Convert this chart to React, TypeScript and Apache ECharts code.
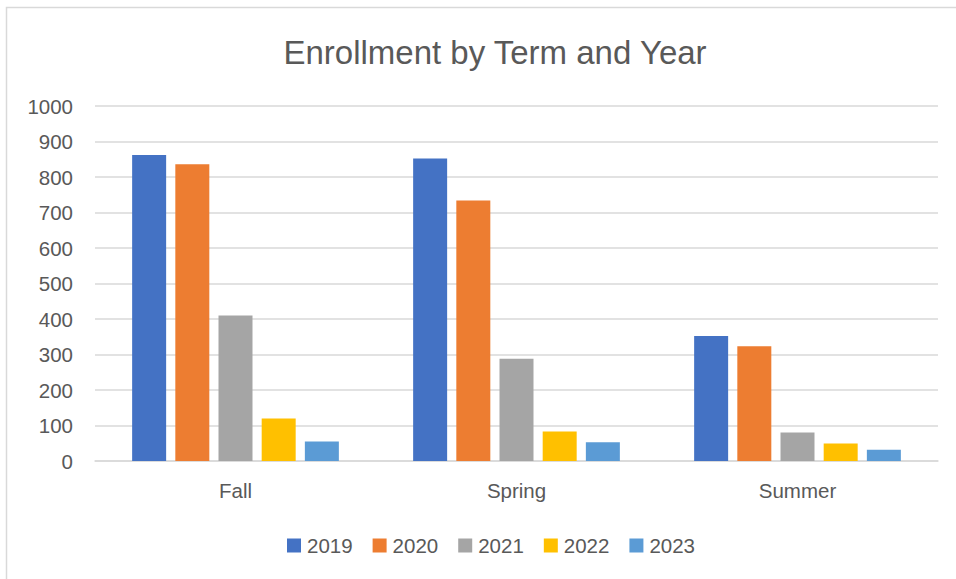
import React, { useEffect, useRef } from "react";
import * as echarts from "echarts";

const terms = ["Fall", "Spring", "Summer"];
const years = ["2019", "2020", "2021", "2022", "2023"];
const y2019 = [862, 852, 352];
const y2020 = [836, 734, 323];
const y2021 = [410, 288, 80];
const y2022 = [120, 83, 49];
const y2023 = [55, 53, 32];
const seriesValues = [y2019, y2020, y2021, y2022, y2023];
const colors = ["#4472C4", "#ED7D31", "#A5A5A5", "#FFC000", "#5B9BD5"];
const titleText = "Enrollment by Term and Year";

const FONT = "'Liberation Sans', Arial, sans-serif";
const TEXT = "#595959";
const GRID = "#d9d9d9";

export default function App() {
  const ref = useRef<HTMLDivElement>(null);
  useEffect(() => {
    if (!ref.current) return;
    const chart = echarts.init(ref.current, undefined, { renderer: "svg" });
    chart.setOption({
      animation: false,
      backgroundColor: "#ffffff",
      textStyle: { fontFamily: FONT },
      graphic: [
        {
          type: "rect",
          shape: { x: 6.5, y: 7.5, width: 1200, height: 1000 },
          style: { fill: "none", stroke: GRID, lineWidth: 1.5 },
          silent: true,
        },
      ],
      title: {
        text: titleText,
        left: 490,
        textAlign: "center",
        top: 31,
        textStyle: { fontFamily: FONT, fontSize: 33, fontWeight: "normal", color: TEXT },
      },
      legend: {
        data: years,
        left: 282,
        top: 530,
        icon: "rect",
        itemWidth: 14,
        itemHeight: 14,
        itemGap: 20,
        textStyle: { fontFamily: FONT, fontSize: 20.5, color: TEXT, padding: [0, 0, 0, 1] },
      },
      grid: { left: 95, right: 18, top: 106, bottom: 118, containLabel: false },
      xAxis: {
        type: "category",
        data: terms,
        axisLine: { show: true, lineStyle: { color: GRID, width: 1.5 } },
        axisTick: { show: false },
        axisLabel: { margin: 19, fontFamily: FONT, fontSize: 20.5, color: TEXT },
      },
      yAxis: {
        type: "value",
        min: 0,
        max: 1000,
        interval: 100,
        axisLine: { show: false },
        axisTick: { show: false },
        axisLabel: {
          margin: 22,
          fontFamily: FONT,
          fontSize: 20.5,
          color: TEXT,
          formatter: (v: number) => String(v),
        },
        splitLine: { lineStyle: { color: GRID, width: 1.5 } },
      },
      series: years.map((y, i) => ({
        name: y,
        type: "bar",
        data: seriesValues[i],
        barWidth: 34,
        barGap: "27%",
        itemStyle: { color: colors[i] },
      })),
    });
    return () => chart.dispose();
  }, []);
  return (
    <div
      ref={ref}
      style={{ position: "fixed", left: 0, top: 0, width: 956, height: 579 }}
    />
  );
}
